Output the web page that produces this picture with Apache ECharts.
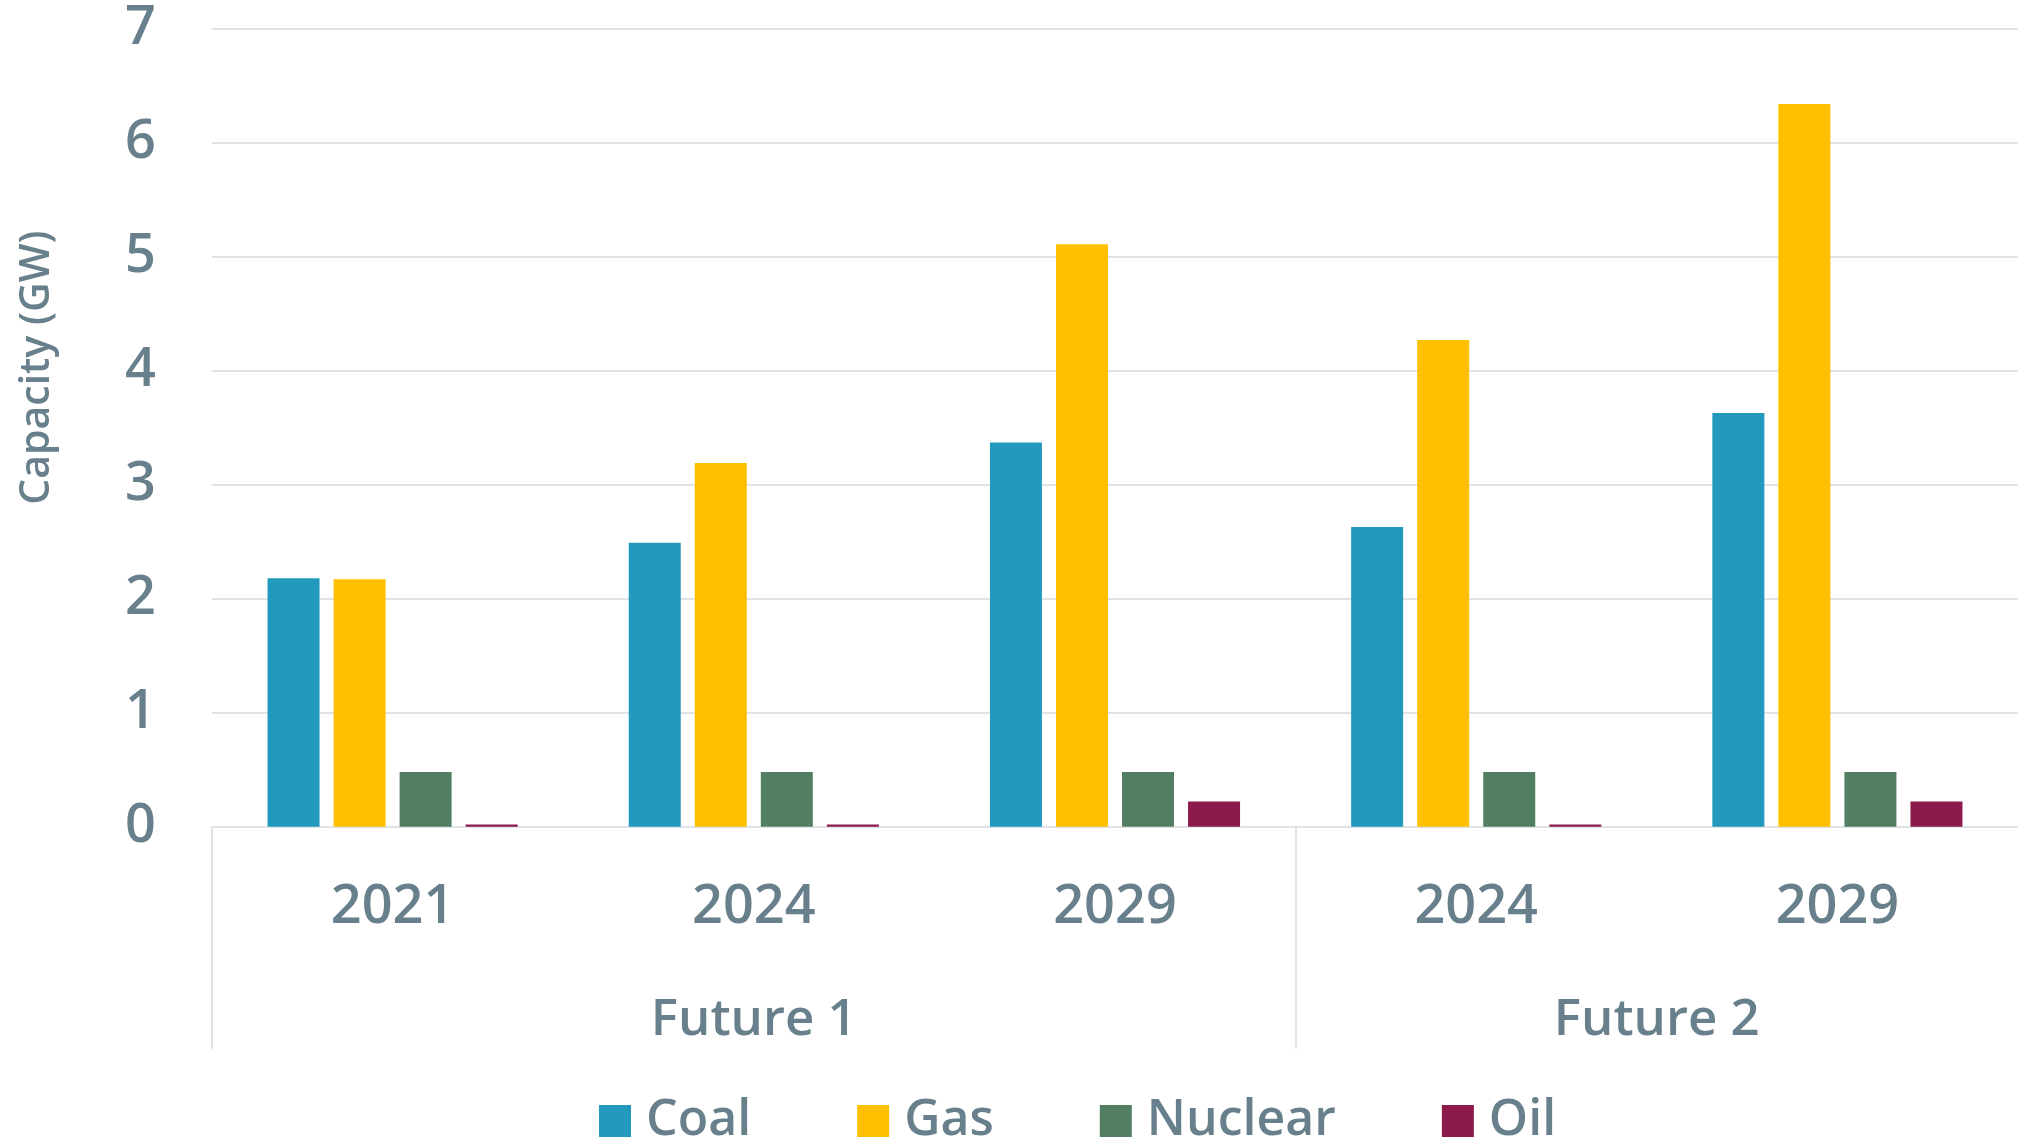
<!DOCTYPE html>
<html>
<head>
<meta charset="utf-8">
<script src="https://cdn.jsdelivr.net/npm/echarts@6/dist/echarts.min.js"></script>
<style>
  html, body { margin: 0; padding: 0; background: #fff; }
  #chart { width: 2018px; height: 1141px; }
</style>
</head>
<body>
<div id="chart"></div>
<script>
// categories (year per scenario) and the scenario groups
const years = ['2021', '2024', '2029', '2024', '2029']
const groups = ['Future 1', 'Future 2']
const groupSpans = [3, 2]  // how many years each group covers

// capacity in GW
const coal = [2.18, 2.49, 3.37, 2.63, 3.63]
const gas = [2.17, 3.19, 5.11, 4.27, 6.34]
const nuclear = [0.48, 0.48, 0.48, 0.48, 0.48]
const oil = [0.02, 0.02, 0.22, 0.02, 0.22]

const yTicks = [0, 1, 2, 3, 4, 5, 6, 7]

const textColor = '#687f8c'
const lineColor = '#dfe4e8'
const font = 'Open Sans'

// group separators and group label centres, in units of categories
const sepValues = [0]
const labelValues = []
let acc = 0
groupSpans.forEach((n) => {
  labelValues.push(acc + n / 2)
  acc += n
  if (acc < years.length) sepValues.push(acc)
})

const chart = echarts.init(document.getElementById('chart'))

const barSeries = (name, data, color) => ({
  type: 'bar',
  name: name,
  data: data,
  barWidth: 52,
  barGap: '27%',
  itemStyle: { color: color },
  emphasis: { disabled: true }
})

chart.setOption({
  animation: false,
  textStyle: { fontFamily: font },
  grid: {
    left: 212,
    right: 0,
    top: 28.7,
    bottom: 314.3,
    containLabel: false,
    outerBoundsMode: 'none'
  },
  legend: {
    left: 594,
    top: 1091,
    itemWidth: 32,
    itemHeight: 32,
    itemGap: 106,
    icon: 'rect',
    textStyle: {
      color: textColor,
      fontSize: 50,
      fontWeight: 600,
      fontFamily: font,
      padding: [0, 0, 0, 10]
    },
    data: ['Coal', 'Gas', 'Nuclear', 'Oil']
  },
  xAxis: [
    {
      type: 'category',
      data: years,
      axisLine: { show: true, lineStyle: { color: lineColor, width: 2 } },
      axisTick: { show: false },
      axisLabel: {
        color: textColor,
        fontSize: 54,
        fontWeight: 600,
        fontFamily: font,
        margin: 54
      }
    },
    {
      type: 'value',
      min: 0,
      max: years.length,
      position: 'bottom',
      axisLine: { show: false },
      splitLine: { show: false },
      axisTick: {
        show: true,
        customValues: sepValues,
        length: 222,
        lineStyle: { color: lineColor, width: 2 }
      },
      axisLabel: {
        customValues: labelValues,
        formatter: (v) => groups[labelValues.indexOf(v)] || '',
        color: textColor,
        fontSize: 51,
        fontWeight: 600,
        fontFamily: font,
        margin: 168
      }
    }
  ],
  yAxis: {
    type: 'value',
    min: yTicks[0],
    max: yTicks[yTicks.length - 1],
    interval: 1,
    name: 'Capacity (GW)',
    nameLocation: 'middle',
    nameGap: 154,
    nameTextStyle: {
      color: textColor,
      fontSize: 41,
      fontWeight: 600,
      fontFamily: font,
      padding: [0, 0, 0, 120]
    },
    axisLine: { show: false },
    axisTick: { show: false },
    axisLabel: {
      color: textColor,
      fontSize: 54,
      fontWeight: 600,
      fontFamily: font,
      margin: 56
    },
    splitLine: { lineStyle: { color: lineColor, width: 2 } }
  },
  series: [
    barSeries('Coal', coal, '#239abd'),
    barSeries('Gas', gas, '#ffc000'),
    barSeries('Nuclear', nuclear, '#527f62'),
    barSeries('Oil', oil, '#8c1a4b')
  ]
})
</script>
</body>
</html>
